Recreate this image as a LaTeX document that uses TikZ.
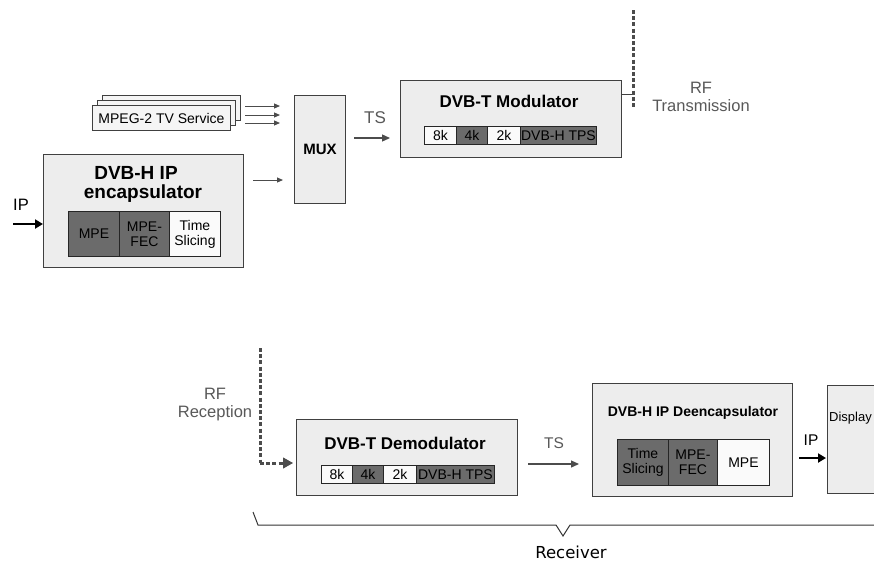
\documentclass[tikz,border=0pt]{standalone}
\usepackage{fontspec}
\setmainfont{Liberation Sans}
\newfontfamily\recfont{DejaVu Sans}
\usetikzlibrary{arrows.meta}

\tikzset{
  blk/.style={draw=black!75, fill=black!7, line width=1pt, inner sep=0pt, anchor=north west},
  cell/.style={draw=black!85, line width=0.9pt, inner sep=0pt, anchor=north west,
               align=center, font=\fontsize{14}{15}\selectfont},
  lite/.style={cell, fill=black!2},
  dark/.style={cell, fill=black!58},
  ttl/.style={font=\bfseries\fontsize{17}{19}\selectfont},
  lbl/.style={text=black!65, font=\fontsize{16.5}{18}\selectfont, align=center},
  flow/.style={draw=black!70, line width=1.3pt, -{Triangle[length=8pt,width=7pt]}},
  thin/.style={draw=black!70, line width=1pt, -{Triangle[length=6pt,width=5pt]}},
  iparrow/.style={draw=black, line width=2.6pt, -{Triangle[length=8pt,width=9pt]}},
  rfline/.style={draw=black!70, line width=3pt, dash pattern=on 4pt off 2.2pt},
}

\begin{document}
\begin{tikzpicture}[x=1pt,y=-1pt]
\clip (0,0) rectangle (874,563);
\fill[white] (0,0) rectangle (874,563);

% ---------- transmitter side ----------
% stacked MPEG-2 service boxes
\node[blk, fill=black!4, minimum width=138pt, minimum height=25pt] (svc3) at (102,95) {};
\node[blk, fill=black!4, minimum width=138pt, minimum height=25pt] (svc2) at (97,100) {};
\node[blk, fill=black!4, minimum width=138pt, minimum height=25pt,
      font=\fontsize{14}{15}\selectfont] (svc) at (92,105) {MPEG-2 TV Service};

% IP encapsulator
\node[blk, minimum width=200pt, minimum height=113pt] (enc) at (43,154) {};
\node[font=\bfseries\fontsize{19}{21}\selectfont] (enct1) at (136,173) {DVB-H IP};
\node[font=\bfseries\fontsize{19}{21}\selectfont] (enct2) at (143,194) {encapsulator};
\node[dark, minimum width=51pt, minimum height=45pt] (encmpe) at (68,211) {MPE};
\node[dark, minimum width=50pt, minimum height=45pt] (encfec) at (119,211) {MPE-\\FEC};
\node[lite, minimum width=51pt, minimum height=45pt] (encts) at (169,211) {Time\\Slicing};

% multiplexer
\node[blk, minimum width=51pt, minimum height=108pt,
      font=\bfseries\fontsize{15}{16}\selectfont] (mux) at (294,95) {MUX};

% modulator
\node[blk, minimum width=221pt, minimum height=77pt] (mod) at (400,80) {};
\node[ttl] (modt) at (509,101) {DVB-T Modulator};
\node[lite, minimum width=32pt, minimum height=18pt] (m8k) at (424,126) {8k};
\node[dark, minimum width=31pt, minimum height=18pt] (m4k) at (456,126) {4k};
\node[lite, minimum width=33pt, minimum height=18pt] (m2k) at (487,126) {2k};
\node[dark, minimum width=76pt, minimum height=18pt] (mtps) at (520,126) {DVB-H TPS};

% input / flow arrows
\coordinate (ipin) at (13,224);
\node[lbl, text=black] (iplbl) at (21,205) {IP};
\draw[iparrow] (ipin) -- (enc.west |- ipin);

\foreach \yy/\nm in {106/a,115/b,123/c}{
  \coordinate (s\nm) at (245,\yy);
  \draw[thin, shorten >=14pt] (s\nm) -- (mux.west |- s\nm);
}
\coordinate (encout) at (243,180);
\draw[thin, shorten <=10pt, shorten >=11pt] (encout) -- (mux.west |- encout);

\coordinate (tsup) at (345,138);
\node[lbl, font=\fontsize{17}{18}\selectfont] (tslbl) at (375,118) {TS};
\draw[flow, shorten <=9pt, shorten >=10pt] (tsup) -- (mod.west |- tsup);

% RF transmission
\coordinate (anttop) at (633,10);
\coordinate (antbot) at (633,108);
\coordinate (modrf) at (621,94);
\draw[draw=black!75, line width=1pt] (modrf) -- (antbot |- modrf);
\draw[rfline] (anttop) -- (antbot);
\node[lbl] (rftx) at (701,97) {RF\\Transmission};

% ---------- receiver side ----------
% demodulator
\node[blk, minimum width=221pt, minimum height=76pt] (dem) at (296,419) {};
\node[ttl] (demt) at (405,443) {DVB-T Demodulator};
\node[lite, minimum width=31pt, minimum height=18pt] (d8k) at (321,465) {8k};
\node[dark, minimum width=31pt, minimum height=18pt] (d4k) at (352,465) {4k};
\node[lite, minimum width=33pt, minimum height=18pt] (d2k) at (383,465) {2k};
\node[dark, minimum width=78pt, minimum height=18pt] (dtps) at (416,465) {DVB-H TPS};

% IP de-encapsulator
\node[blk, minimum width=200pt, minimum height=113pt] (dec) at (592,383) {};
\node[font=\bfseries\fontsize{14}{15}\selectfont] (dect) at (693,413) {DVB-H IP Deencapsulator};
\node[dark, minimum width=51pt, minimum height=46pt] (dects) at (617,439) {Time\\Slicing};
\node[dark, minimum width=49pt, minimum height=46pt] (decfec) at (668,439) {MPE-\\FEC};
\node[lite, minimum width=52pt, minimum height=46pt] (decmpe) at (717,439) {MPE};

% display
\node[blk, minimum width=80pt, minimum height=108pt] (disp) at (827,385) {};
\node[anchor=west, inner sep=1pt, font=\fontsize{13}{15}\selectfont] (dispt) at (828,418) {Display};

% RF reception
\coordinate (rxtop) at (260,348);
\coordinate (rxbend) at (260,463);
\draw[rfline] (rxtop) -- (rxbend);
\draw[draw=black!70, line width=3pt, dash pattern=on 4pt off 2.2pt]
  (rxbend) -- ([xshift=-12pt]dem.west |- rxbend);
\draw[draw=black!70, line width=1pt, -{Triangle[length=10pt,width=11pt]}]
  ([xshift=-12pt]dem.west |- rxbend) -- ([xshift=-3pt]dem.west |- rxbend);
\node[lbl] (rfrx) at (215,405) {RF\\Reception};

% TS to de-encapsulator
\coordinate (tsdn) at (517,464);
\node[lbl, font=\fontsize{15.5}{17}\selectfont] (tslbl2) at (554,443) {TS};
\draw[flow, shorten <=11pt, shorten >=13pt] (tsdn) -- (dec.west |- tsdn);

% IP to display
\coordinate (ipout) at (792,458);
\node[lbl, text=black, font=\fontsize{15.5}{17}\selectfont] (iplbl2) at (811,440) {IP};
\draw[iparrow, shorten <=7pt, shorten >=1pt] (ipout) -- (disp.west |- ipout);

% receiver brace
\coordinate (brl) at (253,512);
\coordinate (brtip) at (563,536);
\draw[black!80, line width=1pt]
  (brl) -- (258,525) -- (556,525) -- (brtip) -- (570,525) -- (880,525);
\node[font=\recfont\fontsize{16.5}{18}\selectfont] (rcv) at (571,552) {Receiver};
\end{tikzpicture}
\end{document}
